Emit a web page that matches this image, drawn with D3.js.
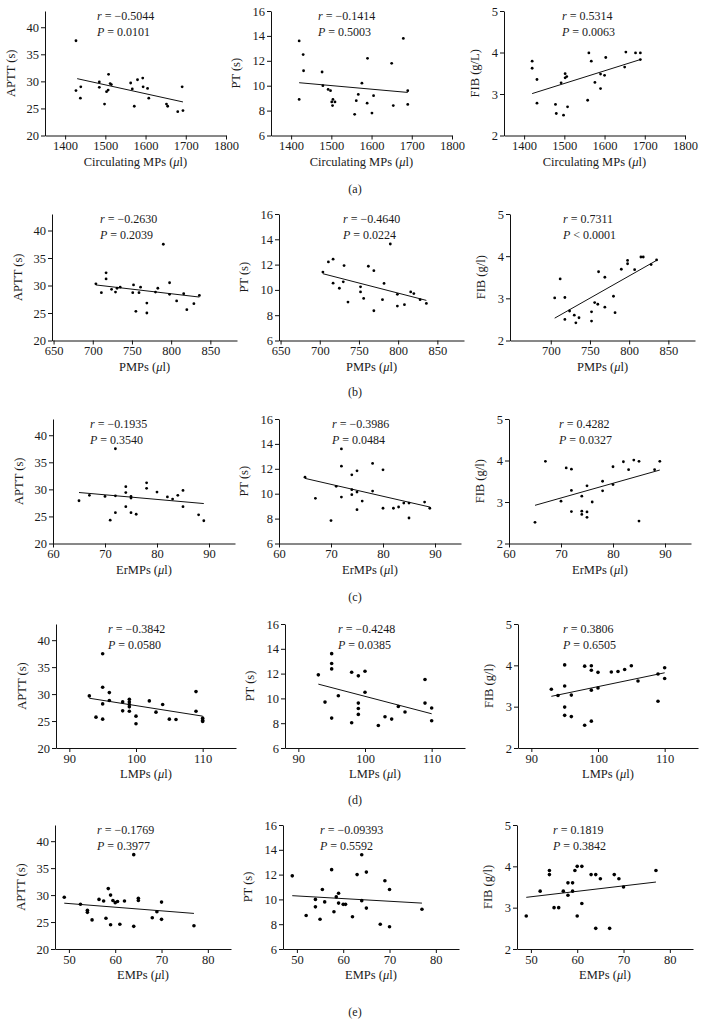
<!DOCTYPE html>
<html><head><meta charset="utf-8">
<script src="https://cdn.jsdelivr.net/npm/d3@7"></script>
<style>
body{margin:0;background:#fff;}
svg text{font-family:"Liberation Serif","Times New Roman",serif;fill:#1a1a1a;}
</style></head>
<body><svg id="chart" width="706" height="1031"></svg>
<script>
// ---------- data ----------
const rowLabels = ["(a)","(b)","(c)","(d)","(e)"];
const xTitles = ["Circulating MPs","PMPs","ErMPs","LMPs","EMPs"];
const yTitlesA = ["APTT (s)","PT (s)","FIB (g/L)"];
const yTitles = ["APTT (s)","PT (s)","FIB (g/l)"];
const xDomains = [[1350,1800],[648,884],[60,95],[88,115],[47,85]];
const xTicksRows = [[1400,1500,1600,1700,1800],[650,700,750,800,850],[60,70,80,90],[90,100,110],[50,60,70,80]];
const xTicksB3 = [700,750,800,850];
const yDomains = [[20,43],[6,16],[2,5]];
const yTicksCols = [[20,25,30,35,40],[6,8,10,12,14,16],[2,3,4,5]];
const rValues = [["−0.5044","−0.1414","0.5314"],["−0.2630","−0.4640","0.7311"],["−0.1935","−0.3986","0.4282"],["−0.3842","−0.4248","0.3806"],["−0.1769","−0.09393","0.1819"]];
const pValues = [["= 0.0101","= 0.5003","= 0.0063"],["= 0.2039","= 0.0224","< 0.0001"],["= 0.3540","= 0.0484","= 0.0327"],["= 0.0580","= 0.0385","= 0.6505"],["= 0.3977","= 0.5592","= 0.3842"]];

const aAPTT = [[1427,37.5],[1427,28.3],[1439,29.0],[1438,26.9],[1485,29.9],[1485,28.9],[1498,25.8],[1503,28.1],[1507,28.4],[1508,31.3],[1512,29.6],[1515,29.4],[1563,29.7],[1567,28.6],[1572,25.4],[1580,30.3],[1593,30.6],[1594,29.0],[1605,28.7],[1608,26.9],[1652,25.8],[1655,25.4],[1680,24.4],[1691,29.0],[1693,24.6]];
const aAPTTFit = [[1430,30.5],[1693,26.2]];
const aPT = [[1420,13.6],[1420,8.9],[1430,12.5],[1431,11.2],[1477,11.1],[1479,10.0],[1492,9.7],[1498,9.6],[1501,8.7],[1503,8.4],[1504,8.9],[1509,8.7],[1558,7.7],[1562,8.8],[1567,9.3],[1576,10.2],[1590,12.2],[1589,8.6],[1601,7.8],[1605,9.2],[1650,11.8],[1654,8.4],[1679,13.8],[1690,9.6],[1690,8.5]];
const aPTFit = [[1420,10.24],[1690,9.46]];
const aFIB = [[1420,3.79],[1420,3.62],[1432,3.35],[1432,2.78],[1478,2.75],[1480,2.53],[1492,3.27],[1498,2.49],[1502,3.49],[1502,3.39],[1506,3.42],[1508,2.69],[1558,2.85],[1561,3.99],[1567,3.79],[1576,3.28],[1590,3.48],[1590,3.13],[1600,3.45],[1603,3.88],[1650,3.65],[1653,4.01],[1677,3.99],[1689,3.99],[1689,3.83]];
const aFIBFit = [[1420,3.01],[1689,3.83]];

const bAPTT = [[704,30.3],[711,28.7],[717,32.3],[717,31.2],[724,29.3],[729,28.8],[731,29.5],[735,29.7],[751,28.7],[752,30.1],[755,25.3],[759,28.7],[761,29.7],[769,26.8],[769,25.0],[780,28.8],[783,29.5],[790,37.5],[798,30.5],[798,28.4],[807,27.2],[816,28.5],[820,25.6],[829,26.7],[836,28.2]];
const bAPTTFit = [[704,30.1],[836,27.9]];
const bPT = [[704,11.41],[711,12.21],[717,12.43],[717,10.53],[725,10.13],[731,11.92],[730,10.64],[736,9.04],[752,10.24],[752,9.84],[756,9.33],[762,11.87],[769,11.52],[769,8.35],[782,10.51],[780,9.23],[790,13.63],[799,9.65],[799,8.72],[808,8.83],[816,9.84],[820,9.71],[828,9.23],[836,8.93]];
const bPTFit = [[704,11.28],[836,9.17]];
const bFIB = [[705,3.01],[712,3.46],[718,3.02],[718,2.50],[724,2.70],[730,2.60],[732,2.42],[736,2.54],[752,2.46],[752,2.68],[756,2.90],[760,2.86],[761,3.63],[769,2.79],[769,3.50],[780,3.05],[782,2.66],[790,3.69],[798,3.90],[798,3.82],[807,3.68],[815,3.98],[818,3.98],[828,3.80],[835,3.91]];
const bFIBFit = [[705,2.53],[835,3.90]];

const cAPTT = [[65,27.9],[67,28.9],[70,28.7],[71,24.3],[72,37.5],[72,28.8],[72,25.7],[74,30.5],[74,29.4],[74,26.8],[75,28.7],[75,28.4],[75,25.7],[76,25.4],[78,31.2],[78,30.2],[80,29.5],[82,28.6],[83,28.2],[84,28.9],[85,29.8],[85,26.8],[88,25.3],[89,24.2]];
const cAPTTFit = [[65,29.42],[89,27.38]];
const cPT = [[65,11.33],[67,9.63],[70,7.84],[71,10.59],[72,13.6],[72,12.21],[72,9.73],[74,11.52],[74,10.32],[74,9.92],[75,11.84],[75,10.13],[75,8.72],[76,9.41],[78,12.43],[78,10.21],[80,11.92],[80,8.83],[82,8.83],[83,8.93],[84,9.25],[85,9.25],[85,8.05],[88,9.33],[89,8.83]];
const cPTFit = [[65,11.23],[89,8.93]];
const cFIB = [[65,2.51],[67,3.98],[70,3.02],[71,3.82],[72,3.79],[72,3.28],[72,2.77],[74,3.14],[74,2.78],[74,2.70],[75,3.39],[75,2.76],[75,2.63],[76,3.0],[78,3.50],[78,3.27],[80,3.85],[80,3.42],[82,3.97],[83,3.78],[84,4.01],[85,3.98],[85,2.54],[88,3.78],[89,3.98]];
const cFIBFit = [[65,2.92],[89,3.77]];

const dAPTT = [[93,29.66],[94,25.72],[95,37.48],[95,31.26],[95,28.18],[95,25.35],[96,30.28],[96,28.8],[98,28.55],[98,26.89],[99,29.05],[99,28.55],[99,28.06],[99,27.63],[99,26.83],[100,25.91],[100,24.49],[102,28.74],[103,26.65],[104,28.06],[105,25.35],[106,25.29],[109,30.46],[109,26.83],[110,25.54],[110,25.17],[110,24.92]];
const dAPTTFit = [[93,29.23],[110,25.91]];
const dPT = [[93,11.9],[94,9.7],[95,13.61],[95,12.81],[95,12.38],[95,8.41],[96,10.21],[98,12.11],[98,8.04],[99,11.82],[99,9.62],[99,9.19],[99,8.71],[100,12.19],[100,10.5],[102,7.82],[103,8.52],[104,8.33],[105,9.35],[106,8.9],[109,11.52],[109,9.62],[110,9.22],[110,8.2]];
const dPTFit = [[93,11.15],[110,8.76]];
const dFIB = [[93,3.42],[94,3.27],[95,4.01],[95,3.50],[95,2.99],[95,2.79],[96,3.28],[96,2.76],[98,3.98],[98,2.55],[99,3.99],[99,3.88],[99,3.40],[99,2.65],[100,3.83],[100,3.45],[102,3.84],[103,3.85],[104,3.90],[105,3.99],[106,3.62],[109,3.79],[109,3.13],[110,3.94],[110,3.68]];
const dFIBFit = [[93,3.25],[110,3.82]];

const eAPTT = [[49,29.6],[52.5,28.3],[54,27.2],[54,26.8],[55,25.4],[56.5,29.2],[57.5,28.9],[58,25.7],[58.5,31.2],[59,30.0],[59.5,29.0],[59,24.5],[60,28.6],[60.5,28.8],[61,24.6],[62,28.9],[64,37.5],[64,24.2],[65,29.4],[65,29.0],[68,25.8],[69,26.9],[70,28.7],[70,25.5],[77,24.3]];
const eAPTTFit = [[49,28.5],[77,26.6]];
const ePT = [[49,11.9],[52,8.7],[54,9.4],[54,10.0],[55,8.4],[55.5,10.8],[56,9.8],[57.5,12.4],[58,9.0],[58.5,10.2],[59,10.5],[59,9.7],[60,9.6],[60.5,9.6],[62,8.6],[63,12.0],[64,13.6],[64,9.9],[65,9.3],[65,12.2],[68,8.0],[69,11.5],[70,10.8],[70,7.8],[77,9.2]];
const ePTFit = [[49,10.3],[77,9.7]];
const eFIB = [[49,2.8],[52,3.4],[54,3.8],[54,3.9],[55,3.0],[56,3.0],[57,3.4],[58,3.3],[58,3.6],[59,3.4],[59,3.6],[59.5,3.9],[60,4.0],[60,2.8],[61,4.0],[61,3.1],[63,3.8],[64,2.5],[64,3.8],[65,3.7],[67,2.5],[68,3.8],[69,3.7],[70,3.5],[77,3.9]];
const eFIBFit = [[49,3.25],[77,3.62]];

const panelData = [
  [[aAPTT,aAPTTFit],[aPT,aPTFit],[aFIB,aFIBFit]],
  [[bAPTT,bAPTTFit],[bPT,bPTFit],[bFIB,bFIBFit]],
  [[cAPTT,cAPTTFit],[cPT,cPTFit],[cFIB,cFIBFit]],
  [[dAPTT,dAPTTFit],[dPT,dPTFit],[dFIB,dFIBFit]],
  [[eAPTT,eAPTTFit],[ePT,ePTFit],[eFIB,eFIBFit]]
];

// ---------- layout ----------
const rowsLayout = [
  {top:11, bottom:135.5, lefts:[45,271,504], width:181, labelY:189},
  {top:214, bottom:340.5, lefts:[52,279,510], width:185, labelY:392},
  {top:419, bottom:543.5, lefts:[53,279,509], width:182, labelY:597},
  {top:624, bottom:748, lefts:[56,285,518], width:180, labelY:800},
  {top:825, bottom:949, lefts:[55,283,517], width:176, labelY:1012}
];
const statOffsets = [[52,47,58],[48,64,53],[37,53,50],[52,53,45],[42,37,36]];
const yTitleOff = [30,31,25];
const dotR = [1.4,1.4,1.4,1.8,1.8];

const svg = d3.select("#chart");
const fmt = d3.format("d");

rowsLayout.forEach((L, ri) => {
  for (let ci = 0; ci < 3; ci++) {
    const left = L.lefts[ci];
    const x = d3.scaleLinear().domain(xDomains[ri]).range([left, left + L.width]);
    const y = d3.scaleLinear().domain(yDomains[ci]).range([L.bottom, L.top]);
    const g = svg.append("g");
    const xt = (ri === 1 && ci === 2) ? xTicksB3 : xTicksRows[ri];
    const xAxis = g.append("g").attr("transform", `translate(0,${L.bottom})`)
      .call(d3.axisBottom(x).tickValues(xt).tickFormat(fmt).tickSize(4).tickSizeOuter(0).tickPadding(2));
    const yAxis = g.append("g").attr("transform", `translate(${left},0)`)
      .call(d3.axisLeft(y).tickValues(yTicksCols[ci]).tickFormat(fmt).tickSize(4).tickSizeOuter(0).tickPadding(2));
    [xAxis, yAxis].forEach(a => {
      a.selectAll("path,line").attr("stroke", "#111").attr("stroke-width", 1);
      a.selectAll("text").attr("font-size", 12.5).attr("fill", "#1a1a1a");
    });
    // x title
    const xt2 = g.append("text").attr("x", left + L.width / 2).attr("y", L.bottom + 30)
      .attr("text-anchor", "middle").attr("font-size", 12.5);
    xt2.append("tspan").text(xTitles[ri] + " (");
    xt2.append("tspan").attr("font-style", "italic").text("μ");
    xt2.append("tspan").text("l)");
    // y title
    const yt = (ri === 0 ? yTitlesA : yTitles)[ci];
    g.append("text").attr("transform", `translate(${left - yTitleOff[ci]},${(L.top + L.bottom) / 2}) rotate(-90)`)
      .attr("text-anchor", "middle").attr("font-size", 12.5).text(yt);
    // stats
    const sx = left + statOffsets[ri][ci];
    const t1 = g.append("text").attr("x", sx).attr("y", L.top + 9).attr("font-size", 12);
    t1.append("tspan").attr("font-style", "italic").text("r");
    t1.append("tspan").text(" = " + rValues[ri][ci]);
    const t2 = g.append("text").attr("x", sx).attr("y", L.top + 25).attr("font-size", 12);
    t2.append("tspan").attr("font-style", "italic").text("P");
    t2.append("tspan").text(" " + pValues[ri][ci]);
    // fit line
    const [pts, fit] = panelData[ri][ci];
    g.append("path").datum(fit)
      .attr("d", d3.line().x(d => x(d[0])).y(d => y(d[1])))
      .attr("stroke", "#111").attr("stroke-width", 1).attr("fill", "none");
    // dots
    g.selectAll("circle.dot").data(pts).join("circle").attr("class", "dot")
      .attr("cx", d => x(d[0])).attr("cy", d => y(d[1])).attr("r", dotR[ri]).attr("fill", "#000");
  }
  svg.append("text").attr("x", 355).attr("y", L.labelY).attr("text-anchor", "middle")
    .attr("dominant-baseline", "central").attr("font-size", 12).text(rowLabels[ri]);
});
</script></body></html>
